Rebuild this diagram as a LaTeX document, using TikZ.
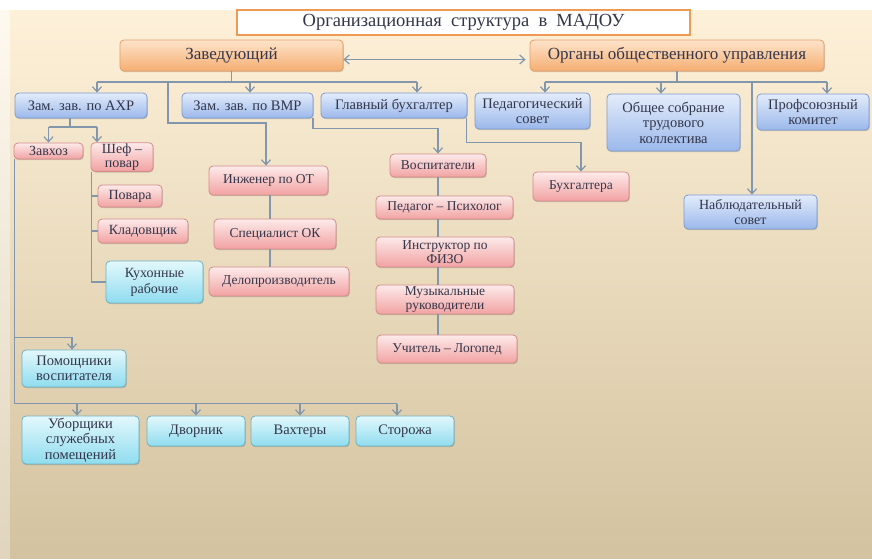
\documentclass[tikz,border=0pt]{standalone}
\usepackage{fontspec}
\setmainfont{Liberation Serif}
\usetikzlibrary{arrows.meta,shadows}

\definecolor{bgtop}{HTML}{FEF1D9}
\definecolor{bgmid}{HTML}{F4E5C7}
\definecolor{bgbot}{HTML}{D3C29F}
\definecolor{orT}{HTML}{FDE3C9}
\definecolor{orB}{HTML}{F6AE72}
\definecolor{orD}{HTML}{E5A068}
\definecolor{blT}{HTML}{E3ECFB}
\definecolor{blB}{HTML}{9BB8EB}
\definecolor{blD}{HTML}{7D9BCF}
\definecolor{pkT}{HTML}{FDEAEA}
\definecolor{pkB}{HTML}{F2A2A2}
\definecolor{pkD}{HTML}{D58B8B}
\definecolor{cyT}{HTML}{E3F8FC}
\definecolor{cyB}{HTML}{8FDCEF}
\definecolor{cyD}{HTML}{6BB3C4}
\definecolor{lnc}{HTML}{8296AC}
\definecolor{txt}{HTML}{33364A}
\definecolor{titD}{HTML}{EE9A55}

\begin{document}
\begin{tikzpicture}[x=1pt, y=-1pt, >={Straight Barb[length=5pt,width=9pt]},
    line/.style={draw=lnc, line width=1.2pt},
    arr/.style={line, ->},
    box/.style={rounded corners=4pt, line width=.8pt, align=center, inner sep=1pt, text=txt,
        drop shadow={shadow xshift=.8pt, shadow yshift=-1.2pt, opacity=.3, fill=black!60}},
    orangebox/.style={box, draw=orD, top color=orT, bottom color=orB, font=\fontsize{17}{18}\selectfont},
    bluebox/.style={box, draw=blD, top color=blT, bottom color=blB, font=\fontsize{14.5}{15.5}\selectfont},
    pinkbox/.style={box, draw=pkD, top color=pkT, bottom color=pkB, font=\fontsize{13.5}{14.5}\selectfont},
    cyanbox/.style={box, draw=cyD, top color=cyT, bottom color=cyB, font=\fontsize{14.5}{15.5}\selectfont}]

    \useasboundingbox (0,0) rectangle (872,558);
    \fill[white] (0,0) rectangle (872,558);
    \shade[top color=bgtop!40!white, bottom color=bgbot!70!white] (0,10) rectangle (10,558);
    \shade[top color=bgtop, middle color=bgmid, bottom color=bgbot] (10,10) rectangle (872,558);

    \node[draw=titD, line width=1.5pt, fill=white, minimum width=453, minimum height=25,
        font=\fontsize{18.5}{20}\selectfont, text=txt] (title) at (463.5,22.5)
        {Организационная\ \ структура\ \ в\ \ МАДОУ};

    % верхний уровень
    \node[orangebox, minimum width=223, minimum height=31] (zav) at (231.5,55.5) {Заведующий};
    \node[orangebox, minimum width=294, minimum height=31] (organy) at (677,55.5) {Органы общественного управления};

    \node[bluebox, minimum width=132, minimum height=25] (axr) at (81,105.5) {Зам. зав. по АХР};
    \node[bluebox, minimum width=131, minimum height=25] (vmr) at (247.5,105.5) {Зам. зав. по ВМР};
    \node[bluebox, minimum width=146, minimum height=25] (buh) at (394,105.5) {Главный бухгалтер};
    \node[bluebox, minimum width=115, minimum height=36] (pedsov) at (532.5,111) {Педагогический\\совет};
    \node[bluebox, minimum width=133, minimum height=57] (obsh) at (673.5,122.5) {Общее собрание\\трудового\\коллектива};
    \node[bluebox, minimum width=112, minimum height=36] (prof) at (813,112) {Профсоюзный\\комитет};
    \node[bluebox, minimum width=133, minimum height=34, font=\fontsize{14}{15}\selectfont] (nabl) at (750.5,212) {Наблюдательный\\совет};

    % АХР
    \node[pinkbox, minimum width=69, minimum height=16, font=\fontsize{14}{15}\selectfont] (zavhoz) at (48.5,151) {Завхоз};
    \node[pinkbox, minimum width=62, minimum height=28, font=\fontsize{14}{14}\selectfont] (shef) at (122,157) {Шеф –\\повар};
    \node[pinkbox, minimum width=64, minimum height=22, font=\fontsize{14}{15}\selectfont] (povara) at (130,196) {Повара};
    \node[pinkbox, minimum width=90, minimum height=24, font=\fontsize{14}{15}\selectfont] (klad) at (143,231) {Кладовщик};
    \node[cyanbox, minimum width=97, minimum height=42, font=\fontsize{14}{16}\selectfont] (kuh) at (154.5,282) {Кухонные\\рабочие};
    \node[cyanbox, minimum width=104, minimum height=37] (pom) at (74,368.5) {Помощники\\воспитателя};
    \node[cyanbox, minimum width=117, minimum height=48] (ubor) at (80.5,440) {Уборщики\\служебных\\помещений};
    \node[cyanbox, minimum width=98, minimum height=30] (dvor) at (196,431) {Дворник};
    \node[cyanbox, minimum width=98, minimum height=30] (vaht) at (300,431) {Вахтеры};
    \node[cyanbox, minimum width=98, minimum height=30] (stor) at (405,431) {Сторожа};

    % ОТ
    \node[pinkbox, minimum width=119, minimum height=29] (ing) at (268.5,180.5) {Инженер по ОТ};
    \node[pinkbox, minimum width=122, minimum height=30] (spec) at (275,234) {Специалист ОК};
    \node[pinkbox, minimum width=140, minimum height=29] (delo) at (279,281.5) {Делопроизводитель};

    % ВМР
    \node[pinkbox, minimum width=96, minimum height=23] (vosp) at (438,165.5) {Воспитатели};
    \node[pinkbox, minimum width=137, minimum height=23] (psih) at (444.5,207.5) {Педагог – Психолог};
    \node[pinkbox, minimum width=138, minimum height=30] (instr) at (445,252) {Инструктор по\\ФИЗО};
    \node[pinkbox, minimum width=138, minimum height=29] (muz) at (445,299.5) {Музыкальные\\руководители};
    \node[pinkbox, minimum width=140, minimum height=28] (logo) at (447,349) {Учитель – Логопед};
    \node[pinkbox, minimum width=96, minimum height=29] (buhg) at (581,186.5) {Бухгалтера};

    % связи
    \draw[line, <->, shorten >=4pt] ([yshift=-4pt]zav.east) -- ([yshift=-4pt]organy.west);

    \coordinate (zbus) at (231.5,82);
    \draw[line] (zav.south) -- (zbus);
    \draw[line] ([xshift=16pt]axr.north |- zbus) -- ([xshift=23pt]buh.north |- zbus);
    \draw[arr] ([xshift=16pt]axr.north |- zbus) -- ([xshift=16pt]axr.north);
    \draw[arr] ([xshift=2.5pt]vmr.north |- zbus) -- ([xshift=2.5pt]vmr.north);
    \draw[arr] ([xshift=23pt]buh.north |- zbus) -- ([xshift=23pt]buh.north);

    \coordinate (kbr) at (168,82);
    \draw[arr] (kbr) -- ++(0,41) -| ([xshift=-2.5pt]ing.north);
    \draw[arr] ([xshift=-.5pt]vmr.south east) -- ++(0,10) -| (vosp.north);
    \draw[arr] ([xshift=-1pt]buh.south east) -- ++(0,24) -| (buhg.north);

    \coordinate (obus) at (677,82);
    \draw[line] (organy.south) -- (obus);
    \draw[line] ([xshift=12.5pt]pedsov.north |- obus) -- ([xshift=14pt]prof.north |- obus);
    \draw[arr] ([xshift=12.5pt]pedsov.north |- obus) -- ([xshift=12.5pt]pedsov.north);
    \draw[arr] ([xshift=-12.5pt]obsh.north |- obus) -- ([xshift=-12.5pt]obsh.north);
    \draw[arr] ([xshift=14pt]prof.north |- obus) -- ([xshift=14pt]prof.north);
    \draw[arr] ([xshift=1.5pt]nabl.north |- obus) -- ([xshift=1.5pt]nabl.north);

    \coordinate (abus) at (70,127);
    \draw[line] ([xshift=-11pt]axr.south) -- (abus);
    \draw[line] (zavhoz.north |- abus) -- ([xshift=-25pt]shef.north |- abus);
    \draw[arr] (zavhoz.north |- abus) -- (zavhoz.north);
    \draw[arr] ([xshift=-25pt]shef.north |- abus) -- ([xshift=-25pt]shef.north);

    \coordinate (sx) at ([xshift=1pt]shef.south west);
    \draw[line] (sx) |- (kuh.west);
    \draw[line] (sx |- povara.west) -- (povara.west);
    \draw[line] (sx |- klad.west) -- (klad.west);

    \coordinate (zx) at ([xshift=1pt]zavhoz.south west);
    \coordinate (lbus) at ([yshift=12pt]ubor.north -| zx);
    \draw[line] (zx) -- (lbus) -- ([xshift=-8pt]stor.north |- lbus);
    \draw[arr] ([yshift=12pt]pom.north -| zx) -| ([xshift=-2pt]pom.north);
    \draw[arr] ([xshift=-3.5pt]ubor.north |- lbus) -- ([xshift=-3.5pt]ubor.north);
    \foreach \n in {dvor, vaht}
        \draw[arr] (\n.north |- lbus) -- (\n.north);
    \draw[arr] ([xshift=-8pt]stor.north |- lbus) -- ([xshift=-8pt]stor.north);

    \draw[line] ([xshift=1.5pt]ing.south) -- ([xshift=1.5pt]ing.south |- spec.north);
    \draw[line] ([xshift=1.5pt]ing.south |- spec.south) -- ([xshift=1.5pt]ing.south |- delo.north);

    \foreach \a/\b in {vosp/psih, psih/instr, instr/muz, muz/logo}
        \draw[line] (vosp.south |- \a.south) -- (vosp.south |- \b.north);

\end{tikzpicture}
\end{document}
